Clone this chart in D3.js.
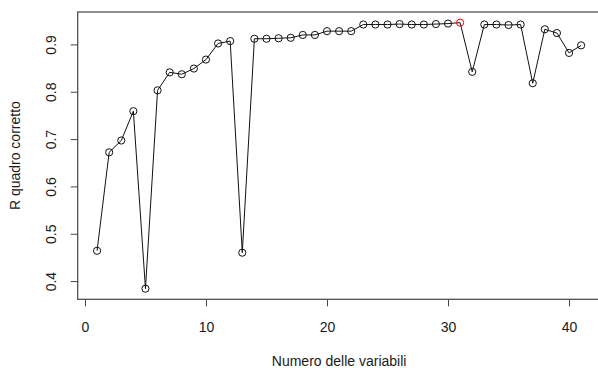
<!DOCTYPE html>
<html>
<head>
<meta charset="utf-8">
<script src="https://cdn.jsdelivr.net/npm/d3@7"></script>
<style>
  body { margin: 0; background: #fff; }
  text { font-family: "Liberation Sans", Arial, sans-serif; fill: #1a1a1a; }
</style>
</head>
<body>
<div id="chart"></div>
<script>
// numero di variabili nel modello
const numVariabili = [1, 2, 3, 4, 5, 6, 7, 8, 9, 10, 11, 12, 13, 14, 15, 16, 17, 18, 19, 20,
  21, 22, 23, 24, 25, 26, 27, 28, 29, 30, 31, 32, 33, 34, 35, 36, 37, 38, 39, 40, 41];
// R quadro corretto per ogni modello
const r2Corretto = [0.464, 0.672, 0.697, 0.759, 0.384, 0.803, 0.841, 0.837, 0.849, 0.868,
  0.902, 0.907, 0.460, 0.912, 0.912, 0.913, 0.914, 0.920, 0.920, 0.928,
  0.928, 0.928, 0.942, 0.942, 0.942, 0.943, 0.942, 0.942, 0.943, 0.944,
  0.946, 0.842, 0.942, 0.942, 0.941, 0.942, 0.818, 0.932, 0.924, 0.882, 0.898];
const xTicks = [0, 10, 20, 30, 40];
const yTicks = [0.4, 0.5, 0.6, 0.7, 0.8, 0.9];

const width = 598, height = 370;
const plot = { left: 77.7, top: 12, right: 600.5, bottom: 299.3 };

const svg = d3.select("#chart")
  .append("svg")
    .attr("width", width)
    .attr("height", height);

// estensione del 4% come in R
const xExt = d3.extent(numVariabili), yExt = d3.extent(r2Corretto);
const xPad = (xExt[1] - xExt[0]) * 0.04, yPad = (yExt[1] - yExt[0]) * 0.04;

const x = d3.scaleLinear()
  .domain([xExt[0] - xPad, xExt[1] + xPad])
  .range([plot.left, plot.right]);
const y = d3.scaleLinear()
  .domain([yExt[0] - yPad, yExt[1] + yPad])
  .range([plot.bottom, plot.top]);

const data = numVariabili.map((n, i) => ({ n: n, v: r2Corretto[i] }));
const best = d3.maxIndex(r2Corretto);

// assi
const gx = svg.append("g")
  .attr("transform", `translate(0,${plot.bottom})`)
  .call(d3.axisBottom(x).tickValues(xTicks).tickSize(7).tickPadding(16).tickFormat(d3.format("d")));
gx.select(".domain").remove();
gx.selectAll("line").attr("stroke", "#444");
gx.selectAll("text").style("font-size", "14px").attr("fill", "#1a1a1a");

const gy = svg.append("g")
  .attr("transform", `translate(${plot.left},0)`)
  .call(d3.axisLeft(y).tickValues(yTicks).tickSize(7).tickFormat(d3.format(".1f")));
gy.select(".domain").remove();
gy.selectAll("line").attr("stroke", "#444");
gy.selectAll("text")
  .style("font-size", "14px")
  .attr("fill", "#1a1a1a")
  .attr("x", null).attr("dy", null)
  .attr("text-anchor", "middle")
  .attr("transform", `translate(${55.7 - plot.left},0) rotate(-90)`);

// riquadro
svg.append("rect")
  .attr("x", plot.left)
  .attr("y", plot.top)
  .attr("width", plot.right - plot.left)
  .attr("height", plot.bottom - plot.top)
  .attr("fill", "none")
  .attr("stroke", "#444")
  .attr("stroke-width", 1.2);

// linea e punti
svg.append("path")
  .datum(data)
  .attr("fill", "none")
  .attr("stroke", "#111")
  .attr("stroke-width", 1)
  .attr("d", d3.line().x(d => x(d.n)).y(d => y(d.v)));

svg.append("g")
  .selectAll("circle")
  .data(data)
  .join("circle")
    .attr("cx", d => x(d.n))
    .attr("cy", d => y(d.v))
    .attr("r", 3.6)
    .attr("fill", "none")
    .attr("stroke", (d, i) => i === best ? "#ff0000" : "#111")
    .attr("stroke-width", 1);

// titoli degli assi
svg.append("text")
  .attr("x", (plot.left + plot.right) / 2)
  .attr("y", 366)
  .attr("text-anchor", "middle")
  .style("font-size", "14px")
  .text("Numero delle variabili");

svg.append("text")
  .attr("transform", `translate(19.5,${(plot.top + plot.bottom) / 2}) rotate(-90)`)
  .attr("text-anchor", "middle")
  .style("font-size", "14px")
  .text("R quadro corretto");
</script>
</body>
</html>
